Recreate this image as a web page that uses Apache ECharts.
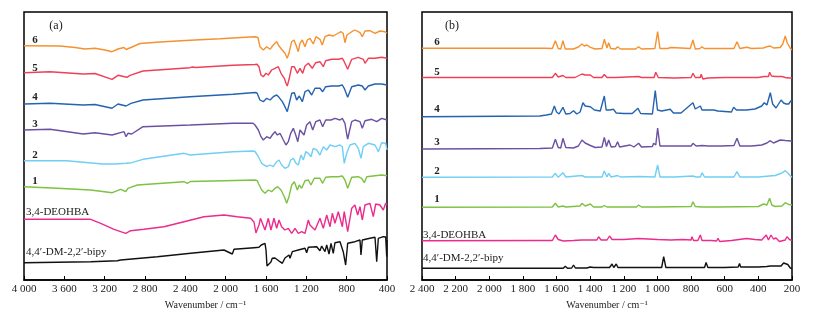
<!DOCTYPE html>
<html>
<head>
<meta charset="utf-8">
<script src="https://cdn.jsdelivr.net/npm/echarts@6/dist/echarts.min.js"></script>
<style>
  html, body { margin: 0; padding: 0; background: #fff; }
  #chart { width: 815px; height: 319px; }
</style>
</head>
<body>
<div id="chart"></div>
<script>
// sample names, top to bottom
const sampleNames = ['6', '5', '4', '3', '2', '1', '3,4-DEOHBA', '4,4\u2032-DM-2,2\u2032-bipy'];
const lineColors = ['#f5922f', '#ef4056', '#2563b0', '#6b51a1', '#71cef5', '#7dc242', '#ec2b8c', '#111111'];

// x ticks
const irTicks = [4000, 3600, 3200, 2800, 2400, 2000, 1600, 1200, 800, 400];
const ramanTicks = [2400, 2200, 2000, 1800, 1600, 1400, 1200, 1000, 800, 600, 400, 200];

// (a) FT-IR, [wavenumber, offset intensity]
const ir6 = [[4000,234.3],[3643,234],[3494,232.5],[3395,231],[3296,231.7],[3197,230],[3127,228.3],[3068,231],[3008,232.5],[2988,230.5],[2969,232],[2939,232.5],[2850,236.5],[2651,238],[2354,239.7],[2056,241.3],[1759,243],[1709,243.3],[1680,242.5],[1660,233.3],[1627,230],[1593,233.3],[1560,230.7],[1528,235],[1494,238.3],[1471,234],[1445,230.7],[1412,226.7],[1389,221.7],[1369,228.3],[1345,238.3],[1322,240],[1296,233.3],[1280,228.3],[1263,236.7],[1240,240],[1213,233.3],[1190,240],[1164,241.7],[1131,236],[1104,243.3],[1065,240.7],[1042,235],[1015,243.3],[975,245],[933,244],[899,246],[856,248.3],[834,246.7],[817,237.3],[797,245],[750,248.3],[718,250],[668,247.3],[645,243.3],[618,249],[569,249.3],[519,246.7],[470,249],[420,248.3],[400,246.7]];
const ir5 = [[4000,207.3],[3742,208.3],[3412,206],[3296,206.5],[3127,200.7],[3068,204.7],[2979,202.7],[2949,204.7],[2820,209],[2354,212.3],[2330,213],[2300,212.5],[1927,214.7],[1709,215.5],[1689,215.7],[1670,213.3],[1650,205],[1627,203.3],[1600,206.7],[1577,205],[1544,210],[1511,211.7],[1478,213.3],[1451,206.7],[1418,201.7],[1402,196.7],[1389,194],[1369,201.7],[1345,213.3],[1319,213.3],[1289,206.7],[1263,211.7],[1236,206.7],[1213,214],[1180,216.7],[1141,211.7],[1107,217.3],[1065,218.3],[1032,213.3],[1008,219.3],[949,220.7],[883,220.7],[843,221.7],[824,218.3],[790,210.7],[750,220.7],[685,222.7],[635,220.7],[618,216.7],[585,221.7],[519,221.7],[453,222.7],[400,221.7]];
const ir4 = [[4000,176],[3742,176.7],[3412,175],[3296,175.5],[3127,171.7],[3068,176],[2988,174],[2939,176.7],[2820,180],[2354,183.3],[1927,185.7],[1709,187.5],[1689,187],[1676,185],[1660,180],[1627,178.3],[1593,181.7],[1560,180],[1528,183.3],[1494,185],[1471,182.7],[1438,178.3],[1412,173.3],[1389,168.3],[1369,176.7],[1345,186.7],[1319,187.3],[1296,180],[1270,184],[1240,178.3],[1213,188.3],[1180,190],[1147,185],[1114,191.7],[1065,191.7],[1038,188.3],[1008,193.3],[949,194],[883,194],[843,195],[824,191.7],[790,182.7],[750,193.3],[685,195],[645,194],[618,190],[585,194],[519,196],[453,196],[400,195]];
const ir3 = [[4000,150],[3742,150.7],[3412,146],[3296,147.3],[3127,145],[3008,148.3],[2988,143.3],[2969,146.7],[2932,146],[2820,153.3],[2354,155],[1927,156.7],[1729,156.7],[1709,155],[1676,150],[1650,143.3],[1627,140],[1593,143.3],[1560,141.7],[1538,145],[1511,148.3],[1488,145],[1461,146.7],[1428,140],[1402,135],[1379,138.3],[1355,146.7],[1329,151.7],[1305,145],[1285,138.3],[1263,150],[1246,151.7],[1223,145],[1197,155],[1164,158.3],[1137,150],[1107,158.3],[1065,160],[1038,153.3],[1008,160],[955,160],[916,161.7],[866,160],[843,161.7],[817,156.7],[800,146],[790,141],[770,150],[750,158.3],[718,160],[668,158.3],[645,151.7],[618,159.3],[552,160.7],[502,158.3],[453,161.7],[400,160]];
const ir2 = [[4000,119.3],[3577,119.3],[3217,116],[3098,116],[2988,116.7],[2976,115],[2932,117.3],[2820,120.7],[2413,126.7],[2354,125],[1927,128.3],[1729,129],[1709,128.5],[1676,123.3],[1643,116.7],[1593,113.3],[1560,115],[1528,113.3],[1494,118.3],[1471,120],[1445,115],[1412,111.7],[1379,113.3],[1355,120],[1329,121.7],[1302,116.7],[1280,115],[1253,125],[1230,120],[1206,128.3],[1180,126.7],[1154,123.3],[1131,131.7],[1097,130],[1065,125],[1032,133.3],[998,130],[965,135],[916,133.3],[866,135],[843,133.3],[824,116.7],[800,126.7],[767,135],[718,136.7],[685,131.7],[658,121.7],[635,133.3],[585,136.7],[519,135],[486,128.3],[453,137.3],[413,136.7],[400,130]];
const ir1 = [[4000,93.3],[3670,91.7],[3339,90],[3124,87.3],[3041,90.7],[2991,88.3],[2969,91.7],[2876,95],[2413,98.3],[2380,96.7],[2350,98.5],[2017,99.3],[1709,100],[1686,99.3],[1676,96.7],[1643,90],[1610,86.7],[1577,90],[1544,88.3],[1511,91.7],[1484,93.3],[1451,90],[1418,83.3],[1395,76.7],[1372,83.3],[1345,95],[1319,98.3],[1289,90],[1270,95],[1246,91.7],[1213,99.3],[1180,100],[1154,95],[1121,101.7],[1065,101.7],[1038,96.7],[1008,102.7],[949,103.3],[883,103.3],[843,104],[817,100],[790,91.7],[750,102.7],[685,103.3],[651,101.7],[625,97.3],[601,103.3],[519,104.3],[453,105],[400,104.3]];
const irDeohba = [[4000,60.7],[3670,60.7],[3339,60.7],[3239,56.7],[3107,50.7],[2991,46.7],[2942,49.3],[2810,50.7],[2612,53.3],[2413,58.3],[2215,63.3],[2017,65],[1885,63.3],[1752,61.7],[1719,58],[1700,47],[1686,46],[1670,55],[1655,61.7],[1643,61.7],[1610,50],[1577,61.7],[1551,50],[1521,61.7],[1494,51.7],[1471,60],[1445,53.3],[1412,50],[1379,51.7],[1345,46.7],[1312,51.7],[1280,46.7],[1246,48.3],[1213,46.7],[1180,60],[1164,55],[1114,50],[1065,61.7],[1032,51.7],[998,65],[965,53.3],[942,66.7],[916,56.7],[883,68.3],[843,53.3],[824,68.3],[790,48.3],[750,71.7],[718,75],[691,65],[668,73.3],[645,60],[618,75],[569,76.7],[536,63.3],[512,76],[470,75],[437,70],[413,76.7],[400,75]];
const irBipy = [[4000,17.3],[3339,18.3],[3075,19.3],[3058,17.3],[3041,20],[2678,23.3],[2347,26.7],[2017,30],[1934,26],[1917,30.7],[1719,32.3],[1670,32.7],[1647,35],[1630,36],[1610,36.7],[1600,30],[1590,14],[1577,14.5],[1551,18],[1538,21.7],[1511,22],[1494,23.3],[1461,18.3],[1438,16.7],[1412,22],[1395,23.3],[1372,25],[1362,21.7],[1339,28.3],[1280,30],[1213,31.7],[1197,27.3],[1180,32.7],[1097,33.3],[1065,29.3],[1048,34],[1015,28.3],[998,35],[975,26],[955,36.7],[933,26.7],[916,37.3],[866,38.3],[834,28.3],[810,15],[790,36.7],[718,38.3],[668,40],[658,25],[645,40],[569,41.7],[519,42.7],[502,18.3],[486,41.7],[437,43.3],[413,43],[403,23.3],[400,40]];

// (b) Raman, [Raman shift, offset intensity]
const ra6 = [[2400,231.7],[1660,231.7],[1625,231.5],[1607,239.3],[1590,231.5],[1575,231],[1562,239.3],[1548,231],[1500,231],[1470,233],[1449,236],[1435,234],[1419,235],[1399,232.7],[1370,231],[1330,231.5],[1316,240.7],[1300,232],[1290,237.3],[1278,231.5],[1250,231],[1237,233.3],[1220,231],[1130,231],[1112,233.3],[1095,231],[1015,231.5],[999,248.3],[985,231.5],[940,231.5],[920,232.5],[805,231.5],[789,240],[775,231],[748,231.5],[735,233.3],[722,231.5],[640,231.5],[545,231.5],[527,238.3],[510,231.5],[468,232.7],[440,231.5],[370,232],[349,233.3],[329,234],[310,232],[270,232.5],[255,236],[240,244],[228,237],[220,235],[206,230.7],[200,230.5]];
const ra5 = [[2400,202.5],[1660,202.5],[1625,202.5],[1607,206.7],[1590,203],[1562,204.5],[1545,202.5],[1490,202.5],[1449,206],[1430,205],[1419,205.7],[1399,205],[1380,202.5],[1330,202.5],[1316,205.5],[1300,202.5],[1250,202.5],[1112,203.5],[1095,202.5],[1020,202.5],[1010,207.7],[995,202.5],[900,202],[800,202.5],[789,206.7],[775,202.5],[745,202.5],[740,205.7],[730,201],[700,202],[600,202.5],[400,202.5],[365,203.5],[340,203.5],[333,207.7],[322,204],[300,203.5],[260,203.5],[240,202.5],[220,202],[200,202]];
const ra4 = [[2400,163.3],[1700,164],[1660,165],[1630,166],[1613,174],[1600,168],[1585,166],[1562,172.7],[1545,166],[1520,166.5],[1499,169.3],[1480,166],[1460,168],[1443,177.3],[1430,174],[1419,172],[1399,173.3],[1375,170],[1340,169],[1330,168],[1316,184],[1305,170],[1285,170],[1261,170.7],[1245,167],[1200,166.5],[1150,166.5],[1116,171.7],[1100,166.5],[1030,166],[1013,189.3],[1000,170],[975,169],[924,170.7],[905,167],[860,167],[789,177.3],[775,171],[745,174],[735,170],[700,170],[666,170],[640,169],[560,168],[547,172.7],[530,170],[470,170],[420,171],[380,174],[365,177.3],[349,175],[329,187.3],[315,176],[295,172],[265,180],[250,177],[235,176],[220,176],[206,179.3],[200,178]];
const ra3 = [[2400,131],[1700,131.5],[1625,132],[1607,140.7],[1590,132.5],[1575,132],[1562,141.7],[1545,132.5],[1500,132],[1470,134],[1449,140],[1430,137],[1419,137.3],[1399,134.5],[1370,132.5],[1330,133],[1316,142.7],[1303,133.5],[1290,140],[1275,133],[1250,133.5],[1237,138.3],[1225,133],[1162,135],[1140,133],[1112,136.7],[1095,133],[1030,133.5],[1023,136.7],[1010,135],[999,152],[985,134],[920,134],[800,134],[789,136.7],[770,134],[735,134.5],[700,134],[620,134],[545,134.5],[527,141.7],[510,134],[440,134],[380,135],[349,137],[329,139.3],[310,137],[270,140],[240,139.5],[206,139],[200,138.5]];
const ra2 = [[2400,102.7],[1625,103],[1607,106.7],[1590,102.7],[1562,107.3],[1545,103],[1449,104.5],[1430,103],[1330,103],[1316,109],[1300,103],[1290,106.7],[1275,103],[1237,104.5],[1220,103],[1112,103.5],[1015,103],[999,115],[985,103],[900,103],[789,104],[770,103],[745,103],[735,107.3],[720,103],[545,103],[527,108.3],[510,103],[400,103],[300,104.5],[260,107],[240,109.3],[225,107],[206,103.5],[200,103]];
const ra1 = [[2400,72.7],[1625,73],[1607,76.7],[1590,73],[1562,74],[1545,73],[1460,74],[1449,76.7],[1430,74],[1399,76],[1380,73],[1330,73],[1316,74.5],[1300,73],[1125,73],[1112,75],[1095,73],[1020,73],[1013,75],[1000,73],[800,73.5],[789,78.3],[775,73.5],[735,73],[660,73],[650,74.5],[640,73],[400,73.5],[369,76],[349,75],[333,81.7],[320,75],[300,73.5],[260,74],[240,77.3],[220,75.5],[200,75]];
const raDeohba = [[2400,39.3],[1700,39.5],[1625,39.5],[1607,45],[1590,40.5],[1560,39],[1500,39.5],[1450,40],[1360,40],[1350,43.3],[1335,40],[1300,40],[1285,44],[1270,40.5],[1200,40.5],[1112,41.5],[1000,40.5],[920,40],[850,40.5],[800,40],[795,43.3],[785,39.5],[760,39.5],[745,45],[735,39.5],[680,39.5],[648,39],[640,41.7],[630,38.5],[560,39.5],[470,41.5],[420,40.5],[380,40],[353,45],[340,40],[325,45],[310,41],[295,42],[275,38.5],[240,40],[230,43.3],[215,40.5],[200,39.5]];
const raBipy = [[2400,11.7],[1600,11.7],[1560,11.7],[1548,13.7],[1535,11.7],[1510,12],[1499,15],[1488,12],[1420,12],[1400,13],[1380,12.5],[1340,12.5],[1285,12.5],[1270,16],[1260,12.5],[1245,16],[1235,12.5],[1200,12.5],[1190,13.2],[1180,12.5],[1100,12.5],[975,12.5],[963,23.3],[950,12.5],[900,12.5],[720,12.5],[711,17.5],[700,12.5],[600,12.5],[520,13],[512,16.5],[505,13],[400,13],[350,13.5],[330,14],[265,14],[250,17],[240,17.7],[225,15.5],[210,12],[200,11.5]];

const irSpectra = [ir6, ir5, ir4, ir3, ir2, ir1, irDeohba, irBipy];
const ramanSpectra = [ra6, ra5, ra4, ra3, ra2, ra1, raDeohba, raBipy];

const serif = '"Liberation Serif", "DejaVu Serif", serif';

function thousands(v) {
    return v >= 1000 ? String(v).replace(/(\d)(\d{3})$/, '$1 $2') : String(v);
}

function xAxisFor(gridIndex, min, max, step) {
    return {
        type: 'value', gridIndex: gridIndex, inverse: true,
        min: min, max: max, interval: step,
        name: 'Wavenumber / cm\u207B\u00B9', nameLocation: 'middle', nameGap: 19,
        nameTextStyle: { fontFamily: serif, fontSize: 10, color: '#222' },
        axisLine: { show: true, onZero: false, lineStyle: { color: '#000', width: 1.5 } },
        axisTick: { show: true, inside: true, length: 4, lineStyle: { color: '#000', width: 1 } },
        axisLabel: { fontFamily: serif, fontSize: 11, color: '#222', margin: 4, formatter: thousands },
        splitLine: { show: false }
    };
}

function yAxisFor(gridIndex) {
    return { type: 'value', gridIndex: gridIndex, min: 0, max: 268, show: false };
}

const series = [];
irSpectra.forEach((d, i) => series.push({
    type: 'line', xAxisIndex: 0, yAxisIndex: 0, data: d, showSymbol: false,
    lineStyle: { color: lineColors[i], width: 1.4 }, silent: true
}));
ramanSpectra.forEach((d, i) => series.push({
    type: 'line', xAxisIndex: 1, yAxisIndex: 1, data: d, showSymbol: false,
    lineStyle: { color: lineColors[i], width: 1.4 }, silent: true
}));

// label positions (px) for each panel
const irLabelY = [40, 68, 97, 124, 155, 181, 212, 252];
const ramanLabelY = [42, 72, 109, 142, 171, 199, 235, 258];

const graphics = [];
function addLabels(ys, xNum, xText) {
    sampleNames.forEach((name, i) => {
        const isNum = i < 6;
        graphics.push({
            type: 'text', x: isNum ? xNum : xText, y: ys[i],
            style: {
                text: name, fill: '#222', font: (isNum ? 'bold 11px ' : '11px ') + serif,
                textAlign: isNum ? 'center' : 'left', textVerticalAlign: 'middle'
            }
        });
    });
}
addLabels(irLabelY, 35, 26);
addLabels(ramanLabelY, 437, 423);
graphics.push({ type: 'text', x: 56, y: 26, style: { text: '(a)', fill: '#222', font: '12px ' + serif, textAlign: 'center', textVerticalAlign: 'middle' } });
graphics.push({ type: 'text', x: 452, y: 26, style: { text: '(b)', fill: '#222', font: '12px ' + serif, textAlign: 'center', textVerticalAlign: 'middle' } });

const chart = echarts.init(document.getElementById('chart'));
chart.setOption({
    animation: false,
    backgroundColor: '#fff',
    grid: [
        { left: 24, top: 12, width: 363, height: 268, show: true, borderColor: '#000', borderWidth: 1.5 },
        { left: 422, top: 12, width: 370, height: 268, show: true, borderColor: '#000', borderWidth: 1.5 }
    ],
    xAxis: [xAxisFor(0, 400, 4000, 400), xAxisFor(1, 200, 2400, 200)],
    yAxis: [yAxisFor(0), yAxisFor(1)],
    series: series,
    graphic: graphics
});
</script>
</body>
</html>
